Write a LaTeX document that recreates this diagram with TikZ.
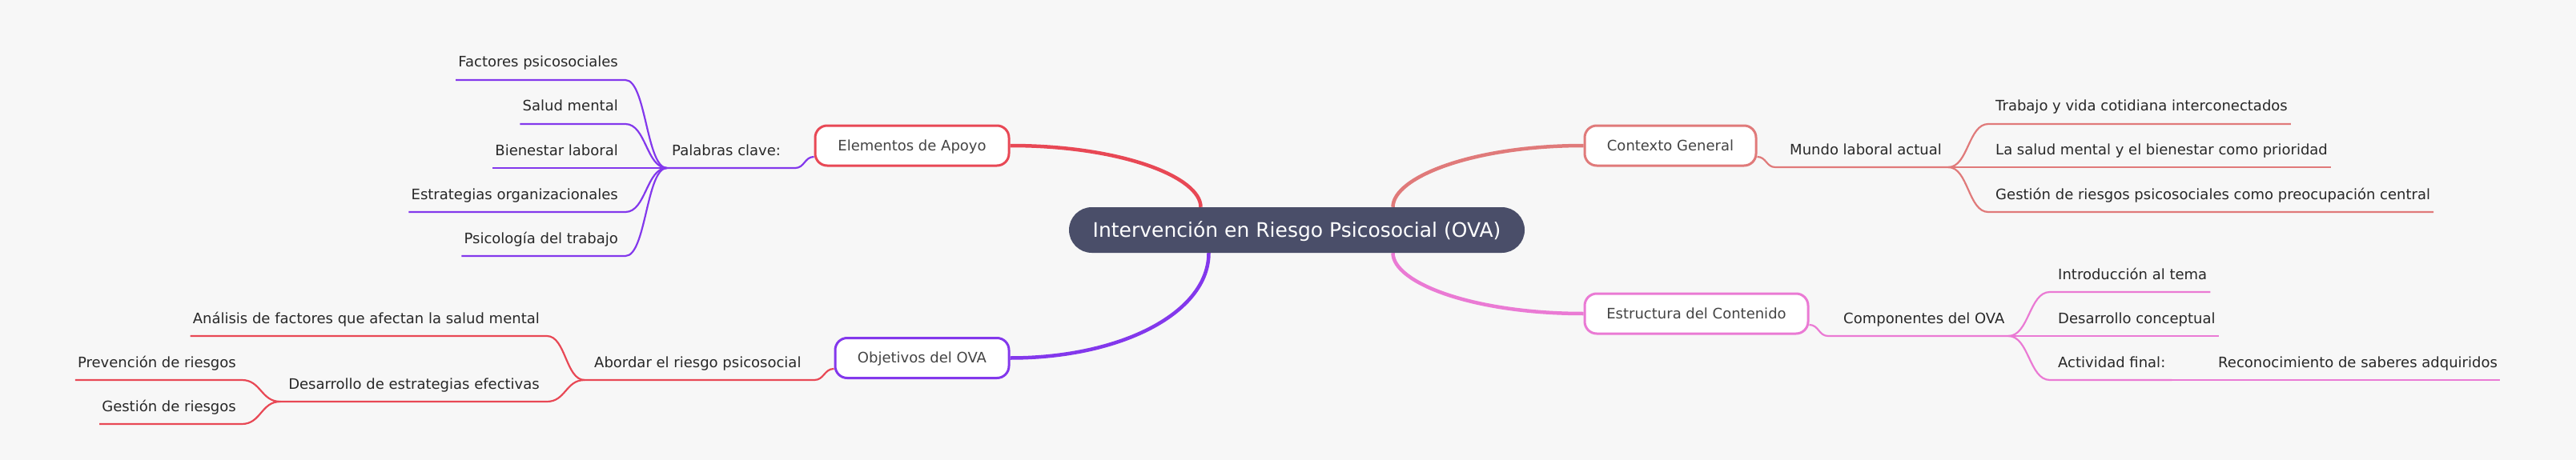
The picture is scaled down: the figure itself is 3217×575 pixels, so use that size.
\documentclass[tikz,border=0pt]{standalone}
\usepackage{fontspec}
\setmainfont{DejaVu Sans}
\usetikzlibrary{calc,backgrounds}
\definecolor{bg}{RGB}{247,247,247}
\definecolor{rootfill}{RGB}{74,78,105}
\definecolor{cred}{RGB}{232,72,85}
\definecolor{cpurple}{RGB}{131,56,236}
\definecolor{csalmon}{RGB}{224,122,122}
\definecolor{cpink}{RGB}{234,122,212}
\definecolor{leaftxt}{RGB}{40,40,40}
\definecolor{nodetxt}{RGB}{68,68,68}
\begin{document}
\begin{tikzpicture}[x=1pt,y=-1pt,
  hs/.style={to path={let \p1=(\tikztostart),\p2=(\tikztotarget) in .. controls ({0.5*\x1+0.5*\x2},\y1) and ({0.5*\x1+0.5*\x2},\y2) .. (\tikztotarget)}},
  mainlink/.style={line width=4.5pt},
  sublink/.style={line width=2.2pt},
  rootbox/.style={fill=rootfill, rounded corners=28.5pt, minimum width=569pt, minimum height=57pt, inner sep=0pt, text=white, font=\fontsize{25}{30}\selectfont, text height=21pt, text depth=4pt},
  topic/.style={draw, line width=3pt, fill=white, rounded corners=15pt, minimum height=50pt, inner sep=0pt, text=nodetxt, font=\fontsize{18}{22}\selectfont, text height=15pt, text depth=3pt},
  lbl/.style={inner sep=0pt, text=leaftxt, font=\fontsize{18}{22}\selectfont},
]
\useasboundingbox (0,0) rectangle (3217,575);

% root and topics
\node[rootbox] (root) at (1619.5,287.5) {Intervención en Riesgo Psicosocial (OVA)};
\node[topic, draw=cred, minimum width=242pt] (E) at (1139,182) {Elementos de Apoyo};
\node[topic, draw=cpurple, minimum width=217pt] (O) at (1151.5,447.5) {Objetivos del OVA};
\node[topic, draw=csalmon, minimum width=214pt] (C) at (2086,182) {Contexto General};
\node[topic, draw=cpink, minimum width=279pt] (S) at (2118.5,392) {Estructura del Contenido};

% labels
\node[lbl, anchor=base west] (pc) at (839,194) {Palabras clave:};
\node[lbl, anchor=base east] (k1) at (772,84) {Factores psicosociales};
\node[lbl, anchor=base east] (k2) at (772,139) {Salud mental};
\node[lbl, anchor=base east] (k3) at (772,194) {Bienestar laboral};
\node[lbl, anchor=base east] (k4) at (772,249) {Estrategias organizacionales};
\node[lbl, anchor=base east] (k5) at (772,304) {Psicología del trabajo};

\node[lbl, anchor=base west] (ab) at (742,459) {Abordar el riesgo psicosocial};
\node[lbl, anchor=base east] (an) at (674,404) {Análisis de factores que afectan la salud mental};
\node[lbl, anchor=base east] (de) at (674,486) {Desarrollo de estrategias efectivas};
\node[lbl, anchor=base east] (pr) at (295,459) {Prevención de riesgos};
\node[lbl, anchor=base east] (ge) at (295,514) {Gestión de riesgos};

\node[lbl, anchor=base west] (ml) at (2235,193) {Mundo laboral actual};
\node[lbl, anchor=base west] (m1) at (2492,139) {Trabajo y vida cotidiana interconectados};
\node[lbl, anchor=base west] (m2) at (2492,193) {La salud mental y el bienestar como prioridad};
\node[lbl, anchor=base west] (m3) at (2492,249) {Gestión de riesgos psicosociales como preocupación central};

\node[lbl, anchor=base west] (co) at (2302,404) {Componentes del OVA};
\node[lbl, anchor=base west] (c1) at (2570,349) {Introducción al tema};
\node[lbl, anchor=base west] (c2) at (2570,404) {Desarrollo conceptual};
\node[lbl, anchor=base west] (c3) at (2570,459) {Actividad final:};
\node[lbl, anchor=base west] (c4) at (2770,459) {Reconocimiento de saberes adquiridos};

% line coordinates
\coordinate (pcR) at (993,210); \coordinate (pcL) at (833,210);
\coordinate (k1R) at (781,100); \coordinate (k1L) at ($(k1.west |- k1R)+(-3,0)$);
\coordinate (k2R) at (781,155); \coordinate (k2L) at ($(k2.west |- k2R)+(-3,0)$);
\coordinate (k3R) at (781,210); \coordinate (k3L) at ($(k3.west |- k3R)+(-3,0)$);
\coordinate (k4R) at (781,265); \coordinate (k4L) at ($(k4.west |- k4R)+(-3,0)$);
\coordinate (k5R) at (781,320); \coordinate (k5L) at ($(k5.west |- k5R)+(-3,0)$);

\coordinate (abR) at (1017,475); \coordinate (abL) at (730,475);
\coordinate (anR) at (683,420); \coordinate (anL) at ($(an.west |- anR)+(-3,0)$);
\coordinate (deR) at (683,502); \coordinate (deL) at (350,502);
\coordinate (prR) at (302,475); \coordinate (prL) at ($(pr.west |- prR)+(-3,0)$);
\coordinate (geR) at (302,530); \coordinate (geL) at ($(ge.west |- geR)+(-3,0)$);

\coordinate (mlL) at (2217,209); \coordinate (mlR) at (2433,209);
\coordinate (m1L) at (2483,155); \coordinate (m1R) at ($(m1.east |- m1L)+(4,0)$);
\coordinate (m2L) at (2483,209); \coordinate (m2R) at ($(m2.east |- m2L)+(4,0)$);
\coordinate (m3L) at (2483,265); \coordinate (m3R) at ($(m3.east |- m3L)+(4,0)$);

\coordinate (coL) at (2283,420); \coordinate (coR) at (2508,420);
\coordinate (c1L) at (2560,365); \coordinate (c1R) at ($(c1.east |- c1L)+(4,0)$);
\coordinate (c2L) at (2560,420); \coordinate (c2R) at ($(c2.east |- c2L)+(4,0)$);
\coordinate (c3L) at (2560,475); \coordinate (c3R) at ($(c3.east |- c3L)+(8,0)$);
\coordinate (c4L) at (2762,475); \coordinate (c4R) at ($(c4.east |- c4L)+(3,0)$);

\begin{pgfonlayer}{background}
\fill[bg] (0,0) rectangle (3217,575);

% main links (behind root)
\draw[mainlink, cred] ([xshift=-120pt]root.north) .. controls +(0,-37) and +(140,0) .. (E.east);
\draw[mainlink, cpurple] ([xshift=-110pt]root.south) .. controls +(0,74) and +(140,0) .. (O.east);
\draw[mainlink, csalmon] ([xshift=120pt]root.north) .. controls +(0,-37) and +(-139,0) .. (C.west);
\draw[mainlink, cpink] ([xshift=120pt]root.south) .. controls +(0,37) and +(-139,0) .. (S.west);

% Elementos de Apoyo branch
\draw[sublink, cpurple] ([yshift=-14pt]E.west) to[hs] (pcR) -- (pcL);
\draw[sublink, cpurple] (pcL) to[hs] (k1R) -- (k1L);
\draw[sublink, cpurple] (pcL) to[hs] (k2R) -- (k2L);
\draw[sublink, cpurple] (pcL) -- (k3R) -- (k3L);
\draw[sublink, cpurple] (pcL) to[hs] (k4R) -- (k4L);
\draw[sublink, cpurple] (pcL) to[hs] (k5R) -- (k5L);

% Objetivos branch
\draw[sublink, cred] ([yshift=-13.5pt]O.west) to[hs] (abR) -- (abL);
\draw[sublink, cred] (abL) to[hs] (anR) -- (anL);
\draw[sublink, cred] (abL) to[hs] (deR) -- (deL);
\draw[sublink, cred] (deL) to[hs] (prR) -- (prL);
\draw[sublink, cred] (deL) to[hs] (geR) -- (geL);

% Contexto branch
\draw[sublink, csalmon] ([yshift=-14pt]C.east) to[hs] (mlL) -- (mlR);
\draw[sublink, csalmon] (mlR) to[hs] (m1L) -- (m1R);
\draw[sublink, csalmon] (mlR) -- (m2L) -- (m2R);
\draw[sublink, csalmon] (mlR) to[hs] (m3L) -- (m3R);

% Estructura branch
\draw[sublink, cpink] ([yshift=-14pt]S.east) to[hs] (coL) -- (coR);
\draw[sublink, cpink] (coR) to[hs] (c1L) -- (c1R);
\draw[sublink, cpink] (coR) -- (c2L) -- (c2R);
\draw[sublink, cpink] (coR) to[hs] (c3L) -- (c3R);
\draw[sublink, cpink] (c3R) -- (c4L) -- (c4R);
\end{pgfonlayer}
\end{tikzpicture}
\end{document}
